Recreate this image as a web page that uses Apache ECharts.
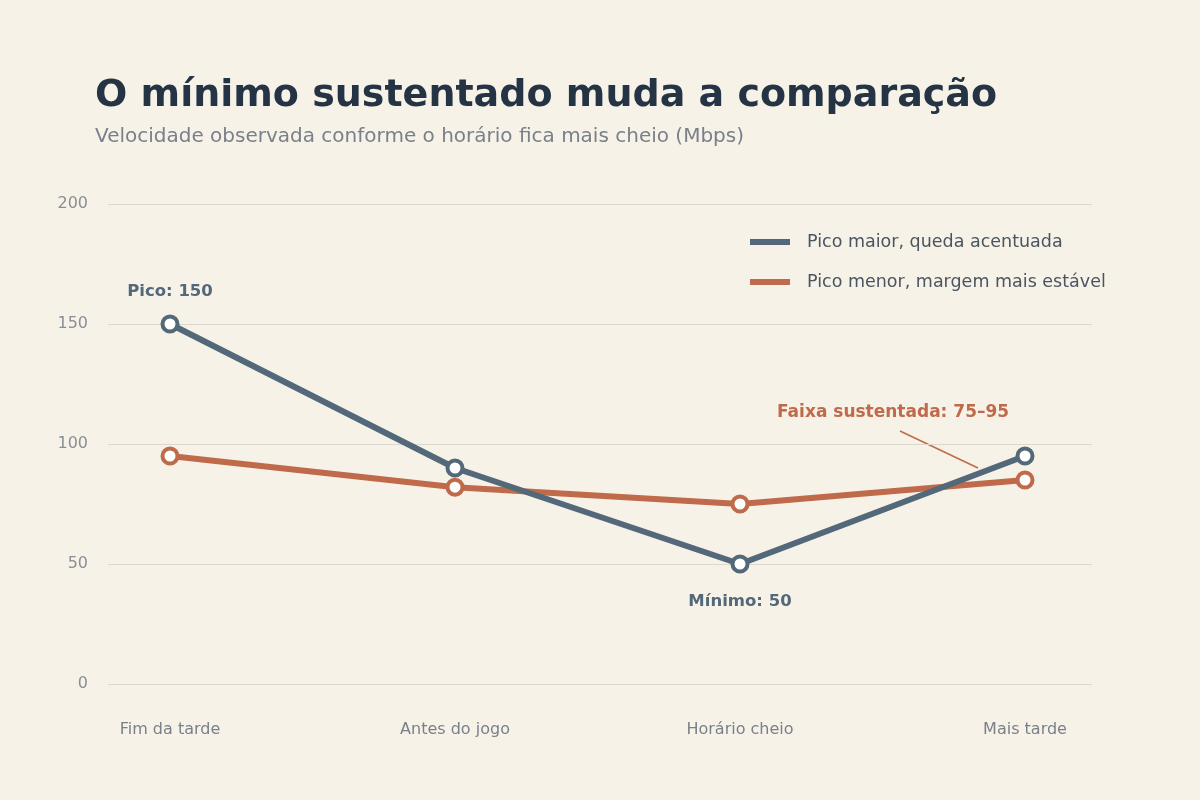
<!DOCTYPE html><html><head><meta charset="utf-8"><script src="https://cdn.jsdelivr.net/npm/echarts@6/dist/echarts.min.js"></script>
<style>html,body{margin:0;background:#f7f2e8}#c{width:1200px;height:800px}</style></head><body><div id="c"></div><script>
const categories=["Fim da tarde","Antes do jogo","Horário cheio","Mais tarde"];
const seriesA=[150,90,50,95];
const seriesB=[95,82,75,85];
const nameA="Pico maior, queda acentuada";
const nameB="Pico menor, margem mais estável";
const F="DejaVu Sans";
const CA='#536878',CB='#bf6a4a';
const c=echarts.init(document.getElementById('c'));
const yBase={type:'value',min:0,max:200,interval:50};
c.setOption({backgroundColor:'#f7f2e8',textStyle:{fontFamily:F},
title:{text:'O mínimo sustentado muda a comparação',subtext:'Velocidade observada conforme o horário fica mais cheio (Mbps)',left:90,top:72,itemGap:12,
textStyle:{fontFamily:F,fontSize:38,fontWeight:'bold',color:'#253444'},subtextStyle:{fontFamily:F,fontSize:20,color:'#7a808a'}},
legend:{orient:'vertical',left:745,top:228,itemWidth:40,itemHeight:6,itemGap:22,icon:'rect',textStyle:{fontFamily:F,fontSize:17.5,color:'#4a5560',padding:[0,0,0,12]},
data:[{name:nameA,itemStyle:{color:CA,borderWidth:0}},{name:nameB,itemStyle:{color:CB,borderWidth:0}}]},
grid:[{left:108,right:108,top:204,bottom:116},{left:170,right:175,top:204,bottom:116}],
xAxis:[{gridIndex:0,type:'category',data:categories,show:false},
{gridIndex:1,type:'category',data:categories,boundaryGap:false,axisLine:{show:false},axisTick:{show:false},axisLabel:{margin:38,fontSize:16,color:'#7a808a',fontFamily:F}}],
yAxis:[Object.assign({gridIndex:0,axisLabel:{fontSize:16,color:'#8a8f96',margin:20,fontFamily:F},splitLine:{lineStyle:{color:'#dcd8cf'}},axisLine:{show:false},axisTick:{show:false}},yBase),
Object.assign({gridIndex:1,show:false,splitLine:{show:false}},yBase)],
series:[
{name:nameB,type:'line',xAxisIndex:1,yAxisIndex:1,data:seriesB,lineStyle:{width:6,color:CB},symbol:'circle',symbolSize:15,itemStyle:{color:'#fff',borderColor:CB,borderWidth:4},z:3},
{name:nameA,type:'line',xAxisIndex:1,yAxisIndex:1,lineStyle:{width:6,color:CA},symbol:'circle',symbolSize:15,itemStyle:{color:'#fff',borderColor:CA,borderWidth:4},z:4,
data:seriesA.map((v,i)=>{const o={value:v};if(i===0)o.label={show:true,position:'top',distance:14,formatter:'Pico: {c}'};if(i===2)o.label={show:true,position:'bottom',distance:20,formatter:'Mínimo: {c}'};return o;}),
label:{fontFamily:F,fontSize:16.5,fontWeight:'bold',color:CA}}],
graphic:[{type:'text',left:777,top:404,style:{text:'Faixa sustentada: 75–95',font:'bold 17px "DejaVu Sans"',fill:CB}},
{type:'line',shape:{x1:900,y1:431,x2:978,y2:468},style:{stroke:CB,lineWidth:1.5}}]
});
</script></body></html>
